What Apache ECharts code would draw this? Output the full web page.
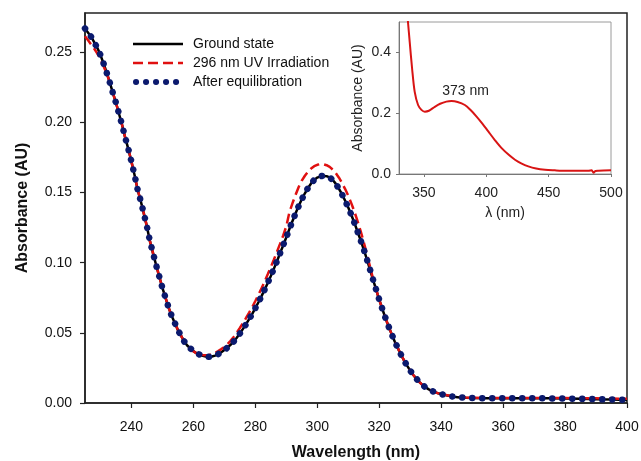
<!DOCTYPE html>
<html><head><meta charset="utf-8">
<script src="https://cdn.jsdelivr.net/npm/echarts@6/dist/echarts.min.js"></script>
<style>html,body{margin:0;padding:0;background:#fff}#c{width:641px;height:461px}</style>
</head><body><div id="c"></div>
<script>
const wavelengths = [225,226,227,228,229,230,231,232,233,234,235,236,237,238,239,240,241,242,243,244,245,246,247,248,249,250,251,252,253,254,255,256,257,258,259,260,261,262,263,264,265,266,267,268,269,270,271,272,273,274,275,276,277,278,279,280,281,282,283,284,285,286,287,288,289,290,291,292,293,294,295,296,297,298,299,300,301,302,303,304,305,306,307,308,309,310,311,312,313,314,315,316,317,318,319,320,321,322,323,324,325,326,327,328,329,330,331,332,333,334,335,336,337,338,339,340,342,344,346,348,350,355,360,365,370,375,380,385,390,395,400];
const groundState = [0.267,0.264,0.261,0.257,0.253,0.248,0.242,0.2355,0.2285,0.221,0.214,0.206,0.198,0.189,0.181,0.172,0.1625,0.152,0.144,0.135,0.1257,0.115,0.1065,0.098,0.090,0.082,0.075,0.068,0.062,0.057,0.052,0.048,0.044,0.041,0.039,0.037,0.0355,0.0345,0.0337,0.0332,0.0330,0.0332,0.0338,0.0348,0.0362,0.0378,0.0395,0.0415,0.0438,0.0465,0.0495,0.0528,0.0562,0.0598,0.0636,0.0676,0.0718,0.0762,0.0808,0.0856,0.0906,0.0958,0.1012,0.1068,0.1125,0.1182,0.1240,0.1297,0.1352,0.1404,0.1452,0.1495,0.1533,0.1565,0.1590,0.1607,0.1616,0.1619,0.1617,0.1608,0.1590,0.1562,0.1527,0.1487,0.1442,0.1393,0.1340,0.1283,0.1222,0.1160,0.1095,0.1025,0.0953,0.0880,0.0808,0.0737,0.0670,0.0607,0.0547,0.0491,0.0439,0.0391,0.0346,0.0304,0.0266,0.0231,0.0200,0.0173,0.0149,0.0128,0.0111,0.0097,0.0086,0.0077,0.0069,0.0063,0.0053,0.0045,0.0040,0.0037,0.0035,0.0034,0.0034,0.0034,0.0034,0.0033,0.0032,0.0030,0.0027,0.0025,0.0022];
const uvIrradiation = [0.2615,0.2585,0.2555,0.2525,0.249,0.245,0.240,0.235,0.2285,0.221,0.214,0.206,0.198,0.189,0.181,0.172,0.1625,0.152,0.144,0.135,0.1257,0.115,0.1065,0.098,0.090,0.082,0.075,0.068,0.062,0.057,0.052,0.048,0.044,0.041,0.039,0.0368,0.0355,0.0347,0.0342,0.0340,0.0342,0.0348,0.0358,0.0370,0.0384,0.0400,0.0420,0.0443,0.0471,0.0502,0.0535,0.0569,0.0606,0.0644,0.0684,0.0727,0.0771,0.0817,0.0866,0.0917,0.0969,0.1023,0.1079,0.1136,0.1194,0.1260,0.1360,0.1425,0.1485,0.1540,0.1585,0.1620,0.1648,0.1671,0.1688,0.1698,0.1703,0.1702,0.1695,0.1683,0.1664,0.1638,0.1606,0.1568,0.1525,0.1477,0.1423,0.1363,0.1297,0.1225,0.1147,0.1063,0.0975,0.0885,0.0808,0.0737,0.0670,0.0607,0.0547,0.0491,0.0439,0.0391,0.0346,0.0304,0.0266,0.0231,0.0200,0.0173,0.0149,0.0128,0.0111,0.0097,0.0086,0.0077,0.0070,0.0065,0.0055,0.0047,0.0042,0.0039,0.0037,0.0036,0.0036,0.0036,0.0036,0.0035,0.0035,0.0034,0.0033,0.0032,0.0030];
const afterEquilibration = [0.267,0.264,0.261,0.257,0.253,0.248,0.242,0.2355,0.2285,0.221,0.214,0.206,0.198,0.189,0.181,0.172,0.1625,0.152,0.144,0.135,0.1257,0.115,0.1065,0.098,0.090,0.082,0.075,0.068,0.062,0.057,0.052,0.048,0.044,0.041,0.039,0.037,0.0355,0.0345,0.0337,0.0332,0.0330,0.0332,0.0338,0.0348,0.0362,0.0378,0.0395,0.0415,0.0438,0.0465,0.0495,0.0528,0.0562,0.0598,0.0636,0.0676,0.0718,0.0762,0.0808,0.0856,0.0906,0.0958,0.1012,0.1068,0.1125,0.1182,0.1240,0.1297,0.1352,0.1404,0.1452,0.1495,0.1533,0.1565,0.1590,0.1607,0.1616,0.1619,0.1617,0.1608,0.1590,0.1562,0.1527,0.1487,0.1442,0.1393,0.1340,0.1283,0.1222,0.1160,0.1095,0.1025,0.0953,0.0880,0.0808,0.0737,0.0670,0.0607,0.0547,0.0491,0.0439,0.0391,0.0346,0.0304,0.0266,0.0231,0.0200,0.0173,0.0149,0.0128,0.0111,0.0097,0.0086,0.0077,0.0069,0.0063,0.0053,0.0045,0.0040,0.0037,0.0035,0.0034,0.0034,0.0034,0.0034,0.0033,0.0032,0.0030,0.0027,0.0025,0.0022];
const xTicks = [240,260,280,300,320,340,360,380,400];
const yTicks = [0,0.05,0.10,0.15,0.20,0.25];
const seriesNames = ['Ground state','296 nm UV Irradiation','After equilibration'];

const insetWavelengths = [336,337.2,338.6,340.5,342.6,345.3,348,350.7,354,358.7,363,368,372.1,377,382.8,387,392.2,397,401.6,407,412.3,418,423,428,433.7,440,447.1,455,460.6,470,482,484.5,486,487.5,490,500];
const insetAbsorbance = [0.56,0.50,0.434,0.347,0.270,0.227,0.211,0.205,0.208,0.221,0.231,0.238,0.240,0.237,0.227,0.212,0.189,0.165,0.140,0.111,0.085,0.063,0.047,0.035,0.025,0.018,0.014,0.012,0.011,0.011,0.011,0.012,0.004,0.010,0.011,0.012];
const insetXTicks = [350,400,450,500];
const insetYTicks = [0,0.2,0.4];
const peakLabel = '373 nm';
const peakPoint = [373,0.24];

const FONT = 'Liberation Sans, Arial, sans-serif';
const pairs = (xs, ys) => xs.map((x, i) => [x, ys[i]]);
const C_BLACK = '#000', C_RED = '#e01010', C_BLUE = '#0b1a6e';

const chart = echarts.init(document.getElementById('c'), null, {renderer: 'canvas'});
chart.setOption({
  animation: false,
  backgroundColor: '#fff',
  textStyle: {fontFamily: FONT},
  legend: {
    data: [
      {name: seriesNames[0], lineStyle: {color: C_BLACK, width: 2.5}},
      {name: seriesNames[1], lineStyle: {color: C_RED, width: 2.5, type: [10, 5]}},
      {name: seriesNames[2], lineStyle: {color: C_BLUE, width: 6, type: [0.1, 9.9], cap: 'round', dashOffset: -3}}
    ],
    orient: 'vertical', left: 130, top: 37, padding: 0, itemGap: 5,
    itemWidth: 50, itemHeight: 14,
    itemStyle: {color: 'rgba(0,0,0,0)', borderWidth: 0},
    textStyle: {fontSize: 14, fontFamily: FONT, color: '#111', padding: [0,0,0,5]}
  },
  grid: [
    {left: 85, top: 13, right: 14, bottom: 58, show: true, borderColor: '#222', borderWidth: 1.5, outerBoundsMode: 'none', containLabel: false},
    {left: 399, top: 22, right: 30, bottom: 287, show: true, borderColor: '#9a9a9a', borderWidth: 1, backgroundColor: '#fff', outerBoundsMode: 'none', containLabel: false}
  ],
  xAxis: [
    {type: 'value', gridIndex: 0, min: 225, max: 400,
     axisLine: {lineStyle: {color: '#222', width: 1.5}},
     axisTick: {show: true, inside: false, length: 5, customValues: xTicks, lineStyle: {color: '#222', width: 1.2}},
     axisLabel: {customValues: xTicks, fontSize: 14, color: '#111', fontFamily: FONT, margin: 17},
     splitLine: {show: false},
     name: 'Wavelength (nm)', nameLocation: 'middle', nameGap: 42,
     nameTextStyle: {fontSize: 16, fontWeight: 'bold', color: '#111', fontFamily: FONT}},
    {type: 'value', gridIndex: 1, min: 330, max: 500,
     axisLine: {lineStyle: {color: '#777', width: 1}},
     axisTick: {show: true, inside: false, length: 3, customValues: insetXTicks, lineStyle: {color: '#777'}},
     axisLabel: {customValues: insetXTicks, fontSize: 14, color: '#222', fontFamily: FONT, margin: 12},
     splitLine: {show: false},
     name: 'λ (nm)', nameLocation: 'middle', nameGap: 32,
     nameTextStyle: {fontSize: 14, color: '#222', fontFamily: FONT}}
  ],
  yAxis: [
    {type: 'value', gridIndex: 0, min: 0, max: 0.278,
     axisLine: {show: true, lineStyle: {color: '#222', width: 1.5}},
     axisTick: {show: true, inside: false, length: 5, customValues: yTicks, lineStyle: {color: '#222', width: 1.2}},
     axisLabel: {customValues: yTicks, fontSize: 14, color: '#111', fontFamily: FONT, margin: 13, formatter: v => v.toFixed(2)},
     splitLine: {show: false},
     name: 'Absorbance (AU)', nameLocation: 'middle', nameGap: 54,
     nameTextStyle: {fontSize: 16, fontWeight: 'bold', color: '#111', fontFamily: FONT}},
    {type: 'value', gridIndex: 1, min: 0, max: 0.5,
     axisLine: {show: true, lineStyle: {color: '#777', width: 1}},
     axisTick: {show: true, inside: false, length: 3, customValues: insetYTicks, lineStyle: {color: '#777'}},
     axisLabel: {customValues: insetYTicks, fontSize: 14, color: '#222', fontFamily: FONT, margin: 8, formatter: v => v.toFixed(1)},
     splitLine: {show: false},
     name: 'Absorbance (AU)', nameLocation: 'middle', nameGap: 34,
     nameTextStyle: {fontSize: 14, color: '#222', fontFamily: FONT}}
  ],
  series: [
    {name: seriesNames[0], type: 'line', xAxisIndex: 0, yAxisIndex: 0, data: pairs(wavelengths, groundState),
     symbol: 'none', showSymbol: false, lineStyle: {color: C_BLACK, width: 2.5}, itemStyle: {color: C_BLACK}},
    {name: seriesNames[1], type: 'line', xAxisIndex: 0, yAxisIndex: 0, data: pairs(wavelengths, uvIrradiation),
     symbol: 'none', showSymbol: false, lineStyle: {color: C_RED, width: 2.5, type: [10, 5]}, itemStyle: {color: C_RED}},
    {name: seriesNames[2], type: 'line', xAxisIndex: 0, yAxisIndex: 0, data: pairs(wavelengths, afterEquilibration),
     symbol: 'none', showSymbol: false, lineStyle: {color: C_BLUE, width: 6.5, type: [0.1, 9.9], cap: 'round'}, itemStyle: {color: C_BLUE}},
    {name: 'inset', type: 'line', xAxisIndex: 1, yAxisIndex: 1, data: pairs(insetWavelengths, insetAbsorbance),
     symbol: 'none', showSymbol: false, smooth: 0.3, clip: true,
     lineStyle: {color: '#d81414', width: 2}, itemStyle: {color: '#d81414'},
     markPoint: {symbol: 'circle', symbolSize: 1, itemStyle: {color: 'rgba(0,0,0,0)'},
       data: [{coord: peakPoint}],
       label: {show: true, formatter: peakLabel, offset: [13, -10], fontSize: 14, color: '#222', fontFamily: FONT}}}
  ]
});
</script></body></html>
